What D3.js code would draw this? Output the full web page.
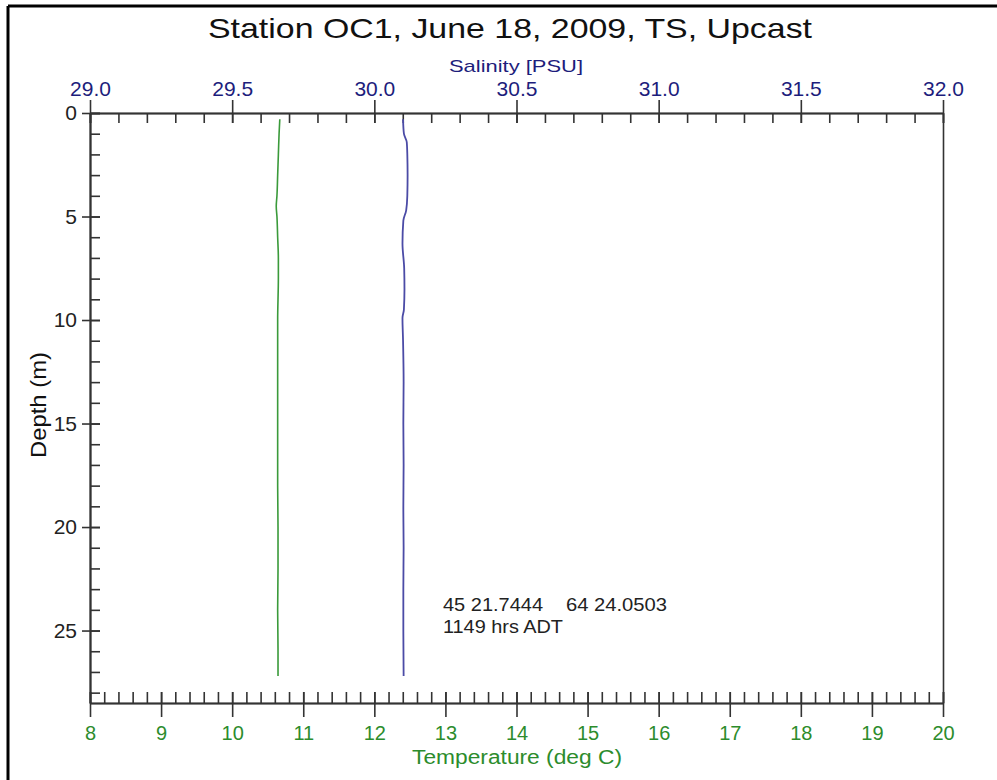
<!DOCTYPE html>
<html>
<head>
<meta charset="utf-8">
<script src="https://cdn.jsdelivr.net/npm/d3@7"></script>
<style>
  html, body { margin: 0; padding: 0; background: #fff; }
  svg { display: block; font-family: "Liberation Sans", Arial, sans-serif; }
  .axis path, .axis line { stroke: #333; stroke-width: 1.6; }
</style>
</head>
<body>
<svg id="chart" width="997" height="780"></svg>
<script>
// CTD upcast profile, station OC1
const depth =        [0.3, 1.0, 2.0, 3.0, 4.0, 4.5, 5.0, 6.0, 7.0, 8.0, 10, 12, 14, 16, 18, 20, 22, 24, 26, 27.2];
const temperature =  [10.67, 10.66, 10.65, 10.64, 10.63, 10.62, 10.63, 10.64, 10.65, 10.65, 10.64, 10.64, 10.64, 10.64, 10.64, 10.645, 10.645, 10.64, 10.645, 10.645];

const salDepth =     [0.3, 1.0, 1.4, 2.0, 3.0, 4.0, 4.7, 5.2, 6.3, 7.5, 8.5, 9.5, 9.9, 11, 13, 15, 17, 19, 21, 23, 25, 27.2];
const salinity =     [30.101, 30.104, 30.114, 30.116, 30.117, 30.116, 30.112, 30.102, 30.099, 30.105, 30.106, 30.104, 30.099, 30.101, 30.103, 30.102, 30.103, 30.102, 30.103, 30.102, 30.102, 30.103];

const salMajorTicks = [29.0, 29.5, 30.0, 30.5, 31.0, 31.5, 32.0];
const tempMajorTicks = [8, 9, 10, 11, 12, 13, 14, 15, 16, 17, 18, 19, 20];
const depthMajorTicks = [0, 5, 10, 15, 20, 25];

const titleText = "Station OC1, June 18, 2009, TS, Upcast";
const salLabel = "Salinity [PSU]";
const tempLabel = "Temperature (deg C)";
const depthLabel = "Depth (m)";
const positionText = ["45 21.7444", "64 24.0503"];
const timeText = "1149 hrs ADT";

const navy = "#1d1d7c", green = "#2c8c2c";
const font = "Liberation Sans, Arial, sans-serif";

const svg = d3.select("#chart");

// page frame (top and left edges)
svg.append("line").attr("x1", 8).attr("y1", 6).attr("x2", 997).attr("y2", 6)
  .attr("stroke", "#000").attr("stroke-width", 3);
svg.append("line").attr("x1", 8).attr("y1", 6).attr("x2", 8).attr("y2", 780)
  .attr("stroke", "#000").attr("stroke-width", 3);

const L = 90, R = 943, T = 113, B = 703;
const xT = d3.scaleLinear().domain([8, 20]).range([L, R]);
const xS = d3.scaleLinear().domain([29, 32]).range([L, R]);
const y = d3.scaleLinear().domain([0, 28.5]).range([T, B]);

// minor ticks, pointing into the plot
const minorSal = d3.range(0, 31).map(i => 29 + i * 0.1);
const minorTemp = d3.range(0, 61).map(i => 8 + i * 0.2);
const minorDepth = d3.range(0, 29);

svg.append("g").attr("class", "axis").attr("transform", `translate(0,${T})`)
  .call(d3.axisTop(xS).tickValues(minorSal).tickSize(-10).tickSizeOuter(0).tickFormat(""));
svg.append("g").attr("class", "axis").attr("transform", `translate(0,${B})`)
  .call(d3.axisBottom(xT).tickValues(minorTemp).tickSize(-11).tickSizeOuter(0).tickFormat(""));
svg.append("g").attr("class", "axis").attr("transform", `translate(${L},0)`)
  .call(d3.axisLeft(y).tickValues(minorDepth).tickSize(-10).tickSizeOuter(0).tickFormat(""));
svg.append("g").attr("class", "axis").attr("transform", `translate(${R},0)`)
  .call(d3.axisRight(y).tickValues([]).tickSizeOuter(0));

// major ticks with labels
const topAxis = svg.append("g").attr("class", "axis").attr("transform", `translate(0,${T})`)
  .call(d3.axisTop(xS).tickValues(salMajorTicks).tickSize(13).tickPadding(4)
    .tickSizeOuter(0).tickFormat(d3.format(".1f")));
topAxis.selectAll("text").attr("fill", navy).style("font-size", "21px").style("font-family", font);

const bottomAxis = svg.append("g").attr("class", "axis").attr("transform", `translate(0,${B})`)
  .call(d3.axisBottom(xT).tickValues(tempMajorTicks).tickSize(14).tickPadding(9)
    .tickSizeOuter(0).tickFormat(d3.format("d")));
bottomAxis.selectAll("text").attr("fill", green).style("font-size", "20px").style("font-family", font)
  .attr("dy", "0.72em");

const leftAxis = svg.append("g").attr("class", "axis").attr("transform", `translate(${L},0)`)
  .call(d3.axisLeft(y).tickValues(depthMajorTicks).tickSize(8).tickPadding(5)
    .tickSizeOuter(0).tickFormat(d3.format("d")));
leftAxis.selectAll("text").attr("fill", "#222").style("font-size", "21px").style("font-family", font);

// inward halves of the major ticks
svg.append("g").attr("class", "axis").attr("transform", `translate(0,${T})`)
  .call(d3.axisTop(xS).tickValues(salMajorTicks).tickSize(-10).tickSizeOuter(0).tickFormat(""));
svg.append("g").attr("class", "axis").attr("transform", `translate(0,${B})`)
  .call(d3.axisBottom(xT).tickValues(tempMajorTicks).tickSize(-11).tickSizeOuter(0).tickFormat(""));
svg.append("g").attr("class", "axis").attr("transform", `translate(${L},0)`)
  .call(d3.axisLeft(y).tickValues(depthMajorTicks).tickSize(-10).tickSizeOuter(0).tickFormat(""));

// profiles
const tempLine = d3.line().x((d, i) => xT(temperature[i])).y(d => y(d)).curve(d3.curveMonotoneY);
const salLine = d3.line().x((d, i) => xS(salinity[i])).y(d => y(d)).curve(d3.curveMonotoneY);

svg.append("path").datum(depth).attr("d", tempLine)
  .attr("fill", "none").attr("stroke", "#3a9a3a").attr("stroke-width", 1.6);
svg.append("path").datum(salDepth).attr("d", salLine)
  .attr("fill", "none").attr("stroke", "#4b4ba6").attr("stroke-width", 1.8);

// titles
svg.append("text").attr("x", 208).attr("y", 38).text(titleText)
  .attr("fill", "#111").style("font-size", "28px")
  .attr("textLength", 604).attr("lengthAdjust", "spacingAndGlyphs");

svg.append("text").attr("x", 449).attr("y", 72).text(salLabel)
  .attr("fill", navy).style("font-size", "17px")
  .attr("textLength", 134).attr("lengthAdjust", "spacingAndGlyphs");

svg.append("text").attr("x", 412).attr("y", 764).text(tempLabel)
  .attr("fill", green).style("font-size", "20px")
  .attr("textLength", 210).attr("lengthAdjust", "spacingAndGlyphs");

svg.append("text").attr("transform", "translate(46,405) rotate(-90)")
  .attr("text-anchor", "middle").text(depthLabel)
  .attr("fill", "#111").style("font-size", "22px")
  .attr("textLength", 106).attr("lengthAdjust", "spacingAndGlyphs");

// station position and time
svg.append("text").attr("x", 443).attr("y", 611).text(positionText[0])
  .attr("fill", "#222").style("font-size", "19px")
  .attr("textLength", 100).attr("lengthAdjust", "spacingAndGlyphs");
svg.append("text").attr("x", 566).attr("y", 611).text(positionText[1])
  .attr("fill", "#222").style("font-size", "19px")
  .attr("textLength", 101).attr("lengthAdjust", "spacingAndGlyphs");
svg.append("text").attr("x", 443).attr("y", 633).text(timeText)
  .attr("fill", "#222").style("font-size", "19px")
  .attr("textLength", 120).attr("lengthAdjust", "spacingAndGlyphs");
</script>
</body>
</html>
